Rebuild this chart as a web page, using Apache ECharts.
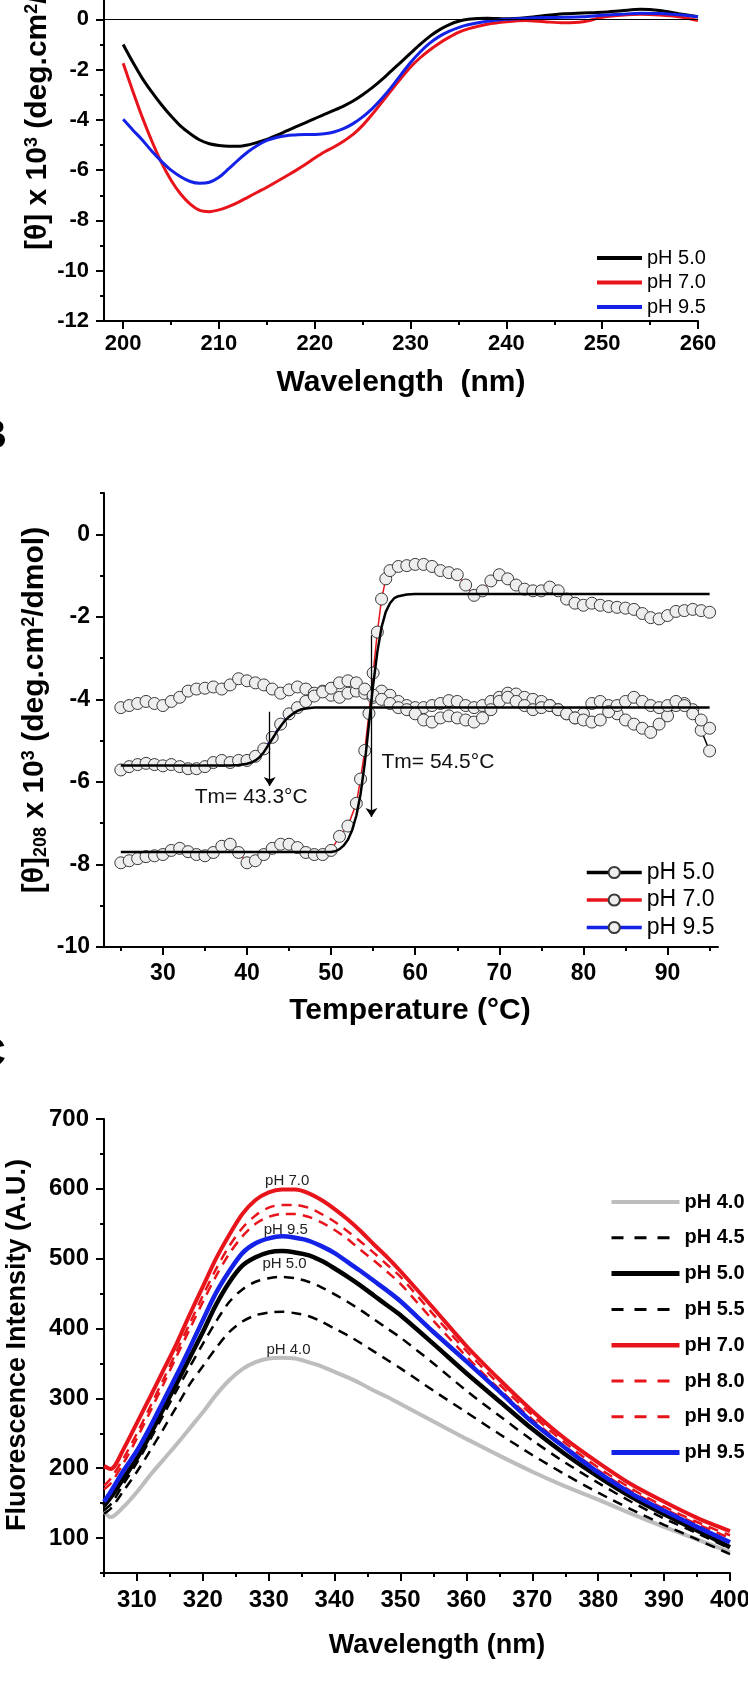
<!DOCTYPE html>
<html>
<head>
<meta charset="utf-8">
<title>CD and fluorescence at different pH</title>
<script src="https://cdn.jsdelivr.net/npm/echarts@6/dist/echarts.min.js"></script>
<style>
  html, body { margin: 0; padding: 0; background: #fff; }
  #chart { width: 748px; height: 1693px; }
</style>
</head>
<body>
<div id="chart"></div>
<script>
// ---- Panel A: far-UV CD spectra ----
const wlA = [200, 201, 202, 203, 204, 205, 206, 207, 208, 209, 210, 211, 212, 213, 214, 215, 216, 217, 218,
  219, 220, 221, 222, 223, 224, 225, 226, 227, 228, 229, 230, 231, 232, 233, 234, 235, 236,
  238, 240, 242, 244, 246, 248, 250, 252, 254, 256, 258, 260];
const cdA_pH50 = [-1.0, -1.7, -2.35, -2.9, -3.4, -3.85, -4.25, -4.55, -4.8, -4.95, -5.02, -5.05, -5.05, -5.0,
  -4.9, -4.78, -4.62, -4.45, -4.28, -4.12, -3.95, -3.78, -3.62, -3.45, -3.25, -3.0, -2.72, -2.4, -2.05, -1.7,
  -1.35, -1.0, -0.68, -0.42, -0.22, -0.08, 0.0,
  0.04, 0.02, 0.06, 0.15, 0.22, 0.25, 0.28, 0.34, 0.4, 0.35, 0.22, 0.1];
const cdA_pH70 = [-1.75, -2.85, -3.9, -4.85, -5.7, -6.4, -6.95, -7.35, -7.6, -7.65, -7.58, -7.45, -7.28, -7.08,
  -6.88, -6.68, -6.46, -6.24, -6.02, -5.78, -5.52, -5.28, -5.08, -4.85, -4.58, -4.22, -3.78, -3.3, -2.82, -2.35,
  -1.9, -1.53, -1.22, -0.95, -0.72, -0.52, -0.38,
  -0.2, -0.1, -0.05, -0.1, -0.14, -0.1, 0.08, 0.16, 0.2, 0.17, 0.1, -0.05];
const cdA_pH95 = [-3.98, -4.4, -4.8, -5.25, -5.65, -6.0, -6.26, -6.45, -6.52, -6.48, -6.28, -5.95, -5.6, -5.28,
  -5.02, -4.82, -4.7, -4.63, -4.6, -4.58, -4.58, -4.55, -4.48, -4.35, -4.15, -3.88, -3.55, -3.15, -2.7, -2.2,
  -1.72, -1.3, -0.95, -0.68, -0.48, -0.33, -0.22,
  -0.08, 0.0, 0.04, 0.07, 0.08, 0.1, 0.16, 0.2, 0.24, 0.23, 0.18, 0.1];

// ---- Panel B: thermal unfolding followed at 208 nm ----
const tempB = [25, 26, 27, 28, 29, 30, 31, 32, 33, 34, 35, 36, 37, 38, 39, 40, 41, 42, 43, 44, 45, 46, 47, 48,
  49, 50, 51, 52, 53, 54, 55, 56, 57, 58, 59, 60, 61, 62, 63, 64, 65, 66, 67, 68, 69, 70, 71, 72, 73, 74, 75,
  76, 77, 78, 79, 80, 81, 82, 83, 84, 85, 86, 87, 88, 89, 90, 91, 92, 93, 94, 95];
const meltB_pH50 = [-4.2, -4.15, -4.1, -4.05, -4.1, -4.15, -4.05, -3.95, -3.8, -3.75, -3.73, -3.7, -3.75, -3.65,
  -3.5, -3.55, -3.6, -3.65, -3.75, -3.85, -3.77, -3.7, -3.75, -3.85, -3.8, -3.9, -3.95, -3.85, -3.8, -3.85,
  -3.95, -3.8, -3.9, -4.05, -4.15, -4.2, -4.2, -4.15, -4.1, -4.03, -4.05, -4.15, -4.2, -4.15, -4.05, -3.95,
  -3.85, -3.87, -3.95, -4.0, -4.05, -4.15, -4.25, -4.35, -4.45, -4.35, -4.1, -4.05, -4.15, -4.35, -4.5, -4.6,
  -4.7, -4.8, -4.6, -4.4, -4.15, -4.1, -4.25, -4.75, -5.25];
const meltB_pH95 = [-5.71, -5.63, -5.58, -5.55, -5.58, -5.61, -5.58, -5.63, -5.68, -5.68, -5.63, -5.53, -5.48,
  -5.53, -5.48, -5.48, -5.38, -5.2, -4.92, -4.6, -4.35, -4.2, -4.05, -3.92, -3.82, -3.73, -3.6, -3.55, -3.6,
  -3.75, -3.9, -4.0, -4.1, -4.2, -4.25, -4.35, -4.5, -4.55, -4.45, -4.4, -4.45, -4.5, -4.55, -4.45, -4.25,
  -4.05, -3.95, -4.05, -4.15, -4.25, -4.2, -4.15, -4.25, -4.35, -4.45, -4.5, -4.55, -4.5, -4.3, -4.15, -4.05,
  -3.95, -4.05, -4.15, -4.2, -4.15, -4.05, -4.15, -4.35, -4.5, -4.7];
const tempB70 = [25, 26, 27, 28, 29, 30, 31, 32, 33, 34, 35, 36, 37, 38, 39, 40, 41, 42, 43, 44, 45, 46, 47, 48,
  49, 50, 51, 52, 53, 53.5, 54, 54.5, 55, 55.5, 56, 56.5, 57, 58, 59, 60, 61, 62, 63, 64, 65, 66, 67, 68, 69,
  70, 71, 72, 73, 74, 75, 76, 77, 78, 79, 80, 81, 82, 83, 84, 85, 86, 87, 88, 89, 90, 91, 92, 93, 94, 95];
const meltB_pH70 = [-7.96, -7.91, -7.86, -7.81, -7.79, -7.76, -7.66, -7.61, -7.69, -7.76, -7.79, -7.71, -7.56,
  -7.51, -7.71, -7.96, -7.91, -7.76, -7.61, -7.51, -7.51, -7.59, -7.71, -7.76, -7.76, -7.66, -7.32, -7.07,
  -6.52, -5.93, -5.24, -4.34, -3.36, -2.37, -1.57, -1.08, -0.88, -0.78, -0.76, -0.73, -0.73, -0.78, -0.88,
  -0.93, -0.98, -1.23, -1.48, -1.37, -1.13, -0.98, -1.08, -1.23, -1.33, -1.37, -1.37, -1.28, -1.37, -1.57,
  -1.67, -1.72, -1.67, -1.72, -1.75, -1.77, -1.79, -1.82, -1.92, -2.02, -2.05, -1.97, -1.87, -1.85, -1.82,
  -1.85, -1.89];
const fitTemp95 = [25, 38, 39, 40, 40.5, 41, 41.5, 42, 42.5, 43, 43.5, 44, 44.5, 45, 45.5, 46, 46.5, 47, 48, 95];
const fitB_pH95 = [-5.6, -5.6, -5.59, -5.56, -5.53, -5.48, -5.4, -5.28, -5.12, -4.96, -4.8, -4.65, -4.52, -4.42,
  -4.34, -4.28, -4.24, -4.22, -4.2, -4.2];
const fitTemp70 = [25, 50, 50.5, 51, 51.5, 52, 52.5, 53, 53.5, 54, 54.5, 55, 55.5, 56, 56.5, 57, 57.5, 58, 59, 60, 95];
const fitB_pH70 = [-7.7, -7.7, -7.68, -7.63, -7.54, -7.4, -7.17, -6.82, -6.3, -5.55, -4.6, -3.65, -2.85, -2.25,
  -1.88, -1.67, -1.55, -1.5, -1.46, -1.45, -1.45];

// ---- Panel C: intrinsic fluorescence emission ----
const wlC = [305, 306, 308, 310, 312, 314, 316, 318, 320, 322, 324, 326, 328, 330, 332, 334, 336, 338, 340,
  342, 344, 346, 348, 350, 355, 360, 365, 370, 375, 380, 385, 390, 395, 400];
const flC_pH40 = [138, 130, 145, 166, 190, 212, 234, 257, 280, 305, 326, 342, 352, 357, 358, 357, 352, 346, 338,
  330, 321, 311, 302, 292, 267, 242, 218, 195, 174, 155, 135, 116, 98, 80];
const flC_pH45 = [135, 142, 168, 195, 225, 256, 288, 320, 346, 372, 395, 410, 419, 423, 424, 422, 418, 410, 400,
  390, 379, 367, 355, 343, 311, 280, 249, 219, 191, 165, 141, 119, 98, 77];
const flC_pH50 = [146, 158, 186, 214, 248, 285, 321, 358, 395, 434, 466, 490, 502, 509, 511, 509, 505, 497, 486,
  474, 461, 447, 433, 419, 378, 336, 296, 256, 220, 188, 159, 134, 111, 87];
const flC_pH55 = [140, 148, 178, 208, 241, 276, 311, 345, 378, 410, 438, 456, 467, 472, 474, 472, 467, 459, 449,
  438, 426, 413, 400, 387, 350, 311, 275, 240, 208, 179, 152, 128, 107, 85];
const flC_pH70 = [203, 199, 228, 265, 302, 340, 378, 420, 460, 500, 534, 564, 584, 595, 599, 599, 594, 584, 571,
  556, 539, 520, 502, 482, 429, 375, 327, 282, 242, 208, 177, 152, 129, 110];
const flC_pH80 = [175, 185, 215, 250, 288, 327, 367, 407, 447, 485, 518, 544, 562, 573, 577, 577, 573, 564, 553,
  539, 524, 508, 491, 474, 420, 368, 320, 276, 236, 201, 171, 145, 123, 104];
const flC_pH90 = [170, 178, 208, 243, 281, 320, 360, 399, 438, 475, 507, 532, 550, 560, 564, 564, 560, 552, 541,
  528, 512, 497, 481, 464, 411, 360, 313, 270, 231, 197, 167, 142, 120, 100];
const flC_pH95 = [152, 166, 197, 225, 259, 296, 333, 372, 412, 451, 482, 508, 522, 529, 532, 530, 526, 518, 508,
  495, 482, 468, 454, 439, 395, 353, 310, 266, 229, 194, 164, 139, 116, 94];

// tick positions
const ticksA_x = [200, 210, 220, 230, 240, 250, 260];
const minorA_x = [205, 215, 225, 235, 245, 255];
const ticksA_y = [-12, -10, -8, -6, -4, -2, 0, 2];
const minorA_y = [-11, -9, -7, -5, -3, -1, 1];
const ticksB_x = [30, 40, 50, 60, 70, 80, 90];
const minorB_x = [25, 35, 45, 55, 65, 75, 85, 95];
const ticksB_y = [-10, -8, -6, -4, -2, 0];
const minorB_y = [-9, -7, -5, -3, -1, 1];
const ticksC_x = [310, 320, 330, 340, 350, 360, 370, 380, 390, 400];
const minorC_x = [305, 315, 325, 335, 345, 355, 365, 375, 385, 395];
const ticksC_y = [100, 200, 300, 400, 500, 600, 700];
const minorC_y = [50, 150, 250, 350, 450, 550, 650];

const font = 'Liberation Sans';
const RED = '#e8141b';
const BLUE = '#1322e6';
const pairs = (xs, ys) => xs.map((x, i) => [x, ys[i]]);

// one axis with labels + major ticks, one silent twin for the minor ticks
function makeAxes(gridIndex, position, min, max, majors, minors, fontSize, margin) {
  const base = { type: 'value', gridIndex, position, min, max, splitLine: { show: false } };
  return [
    {
      ...base,
      axisLine: { show: true, onZero: false, lineStyle: { color: '#000', width: 2 } },
      axisTick: { show: true, inside: false, length: 8, customValues: majors, lineStyle: { color: '#000', width: 2 } },
      axisLabel: { show: true, customValues: majors, margin, fontSize, fontWeight: 'bold', color: '#000', fontFamily: font }
    },
    {
      ...base,
      axisLine: { show: false, onZero: false },
      axisTick: { show: true, inside: false, length: 4, customValues: minors, lineStyle: { color: '#000', width: 2 } },
      axisLabel: { show: false }
    }
  ];
}

const xAxes = [
  ...makeAxes(0, 'bottom', 198, 260, ticksA_x, minorA_x, 22, 12),
  ...makeAxes(1, 'bottom', 23, 96, ticksB_x, minorB_x, 23, 15),
  ...makeAxes(2, 'bottom', 305, 400, ticksC_x, minorC_x, 24, 15)
];
const yAxes = [
  ...makeAxes(0, 'left', -12, 2, ticksA_y, minorA_y, 22, 15),
  ...makeAxes(1, 'left', -10, 1, ticksB_y, minorB_y, 23, 14),
  ...makeAxes(2, 'left', 50, 700, ticksC_y, minorC_y, 24, 15)
];

function specLine(name, axis, xs, ys, color, width, dash, extra) {
  return Object.assign({
    name, type: 'line', xAxisIndex: axis, yAxisIndex: axis,
    data: pairs(xs, ys), symbol: 'none', smooth: 0.3,
    lineStyle: { color, width, type: dash || 'solid' },
    itemStyle: { color }
  }, extra || {});
}

function meltPoints(name, xs, ys, color) {
  return {
    name, type: 'line', xAxisIndex: 2, yAxisIndex: 2,
    data: pairs(xs, ys), symbol: 'circle', symbolSize: 12, showAllSymbol: true,
    lineStyle: { color, width: 1.5 },
    itemStyle: { color: '#eeeeee', borderColor: '#3a3a3a', borderWidth: 1 }
  };
}

function curveLabel(text, x, y) {
  return {
    symbol: 'circle', symbolSize: 0, silent: true,
    label: { show: true, position: 'inside', formatter: '{b}', fontSize: 15, color: '#222', fontFamily: font },
    data: [{ name: text, coord: [x, y] }]
  };
}

const arrowLine = (x, y1, y2) => ({
  symbol: ['none', 'arrow'], symbolSize: 9, silent: true,
  lineStyle: { color: '#000', width: 1.3, type: 'solid' },
  label: { show: false },
  data: [[{ coord: [x, y1] }, { coord: [x, y2] }]]
});
const tmLabel = (text, x, y) => ({
  symbol: 'circle', symbolSize: 0, silent: true,
  label: { show: true, position: 'inside', formatter: '{b}', fontSize: 21, color: '#111', fontFamily: font },
  data: [{ name: text, coord: [x, y] }]
});

const series = [
  // A
  specLine('A|pH 5.0', 0, wlA, cdA_pH50, '#000', 3, null, {
    markLine: {
      symbol: 'none', silent: true, label: { show: false },
      lineStyle: { color: '#000', width: 1.2, type: 'solid' },
      data: [{ yAxis: 0 }]
    }
  }),
  specLine('A|pH 7.0', 0, wlA, cdA_pH70, RED, 3),
  specLine('A|pH 9.5', 0, wlA, cdA_pH95, BLUE, 3),
  // B
  meltPoints('B|pH 5.0', tempB, meltB_pH50, '#000'),
  meltPoints('B|pH 9.5', tempB, meltB_pH95, BLUE),
  meltPoints('B|pH 7.0', tempB70, meltB_pH70, RED),
  {
    name: 'fit 9.5', type: 'line', xAxisIndex: 2, yAxisIndex: 2, z: 5,
    data: pairs(fitTemp95, fitB_pH95), symbol: 'none',
    lineStyle: { color: '#000', width: 2.5 },
    markLine: arrowLine(42.7, -4.3, -6.1),
    markPoint: tmLabel('Tm= 43.3°C', 40.5, -6.38)
  },
  {
    name: 'fit 7.0', type: 'line', xAxisIndex: 2, yAxisIndex: 2, z: 5,
    data: pairs(fitTemp70, fitB_pH70), symbol: 'none',
    lineStyle: { color: '#000', width: 2.5 },
    markLine: arrowLine(54.8, -2.45, -6.85),
    markPoint: tmLabel('Tm= 54.5°C', 62.7, -5.53)
  },
  // C
  specLine('C|pH 4.0', 4, wlC, flC_pH40, '#bdbdbd', 4, null, { markPoint: curveLabel('pH 4.0', 333, 369) }),
  specLine('C|pH 4.5', 4, wlC, flC_pH45, '#000', 2.5, [10, 7]),
  specLine('C|pH 5.0', 4, wlC, flC_pH50, '#000', 4.5, null, { markPoint: curveLabel('pH 5.0', 332.4, 492) }),
  specLine('C|pH 5.5', 4, wlC, flC_pH55, '#000', 2.5, [10, 7]),
  specLine('C|pH 7.0', 4, wlC, flC_pH70, RED, 4, null, { markPoint: curveLabel('pH 7.0', 332.8, 611) }),
  specLine('C|pH 8.0', 4, wlC, flC_pH80, RED, 2.5, [10, 7]),
  specLine('C|pH 9.0', 4, wlC, flC_pH90, RED, 2.5, [10, 7]),
  specLine('C|pH 9.5', 4, wlC, flC_pH95, BLUE, 4.5, null, { markPoint: curveLabel('pH 9.5', 332.6, 541) })
];

const stripPrefix = (n) => n.split('|')[1];
const legendItem = (name, width, dash) => ({
  name, lineStyle: dash ? { width, type: [12, 11] } : { width }
});
const legends = [
  {
    data: [legendItem('A|pH 5.0', 4), legendItem('A|pH 7.0', 4), legendItem('A|pH 9.5', 4)],
    orient: 'vertical', left: 595, top: 248, padding: 0,
    itemWidth: 45, itemHeight: 14, itemGap: 4.5, selectedMode: false, formatter: stripPrefix,
    itemStyle: { opacity: 0 },
    textStyle: { fontSize: 20, color: '#000', fontFamily: font }
  },
  {
    data: [legendItem('B|pH 5.0', 3.5), legendItem('B|pH 7.0', 3.5), legendItem('B|pH 9.5', 3.5)],
    orient: 'vertical', left: 585, top: 861, padding: 0,
    itemWidth: 55, itemHeight: 14, itemGap: 4.5, selectedMode: false, formatter: stripPrefix,
    textStyle: { fontSize: 23, color: '#000', fontFamily: font }
  },
  {
    data: [
      legendItem('C|pH 4.0', 4), legendItem('C|pH 4.5', 3, true), legendItem('C|pH 5.0', 5),
      legendItem('C|pH 5.5', 3, true), legendItem('C|pH 7.0', 4.5), legendItem('C|pH 8.0', 3, true),
      legendItem('C|pH 9.0', 3, true), legendItem('C|pH 9.5', 5)
    ],
    orient: 'vertical', left: 609, top: 1192, padding: 0,
    itemWidth: 68, itemHeight: 14, itemGap: 15.8, selectedMode: false, formatter: stripPrefix,
    itemStyle: { opacity: 0 },
    textStyle: { fontSize: 20, fontWeight: 'bold', color: '#000', fontFamily: font }
  }
];

const supStyle = { fontSize: 18, fontWeight: 'bold', fontFamily: font, verticalAlign: 'top', fill: '#000' };
const subStyle = { fontSize: 18, fontWeight: 'bold', fontFamily: font, verticalAlign: 'bottom', fill: '#000' };
function titleText(text, x, y, size, rotate, align, rich) {
  return {
    type: 'text', x, y, rotation: rotate ? Math.PI / 2 : 0, silent: true,
    style: {
      text, fill: '#000', fontSize: size, fontWeight: 'bold', fontFamily: font,
      align: align || 'center', verticalAlign: 'middle',
      textAlign: align || 'center', textVerticalAlign: 'middle',
      rich: rich || {}
    }
  };
}

const graphics = [
  titleText('[θ] x 10{sup|3} (deg.cm{sup|2}/dmol)', 38, 250, 30, true, 'left', { sup: supStyle }),
  titleText('Wavelength  (nm)', 401, 383, 30, false),
  titleText('[θ]{sub|208} x 10{sup|3} (deg.cm{sup|2}/dmol)', 35, 710, 30, true, 'center', { sup: supStyle, sub: subStyle }),
  titleText('Temperature (°C)', 410, 1011, 30, false),
  titleText('Fluorescence Intensity (A.U.)', 18, 1345, 27, true),
  titleText('Wavelength (nm)', 437, 1646, 27, false),
  titleText('B', 7, 437, 40, false, 'right'),
  titleText('C', 6, 1055, 40, false, 'right')
];

const chart = echarts.init(document.getElementById('chart'), null, { renderer: 'canvas' });
chart.setOption({
  animation: false,
  backgroundColor: '#fff',
  textStyle: { fontFamily: font },
  grid: [
    { left: 104, top: -31, width: 594, height: 352, containLabel: false, outerBoundsMode: 'none' },
    { left: 104, top: 493, width: 614, height: 454, containLabel: false, outerBoundsMode: 'none' },
    { left: 104, top: 1119, width: 626, height: 454, containLabel: false, outerBoundsMode: 'none' }
  ],
  xAxis: xAxes,
  yAxis: yAxes,
  legend: legends,
  series,
  graphic: graphics
});
window.addEventListener('resize', () => chart.resize());
</script>
</body>
</html>
